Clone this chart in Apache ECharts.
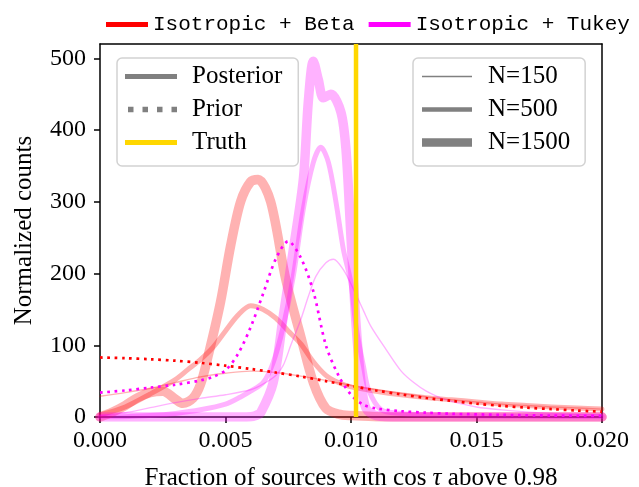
<!DOCTYPE html>
<html>
<head>
<meta charset="utf-8">
<script src="https://cdn.jsdelivr.net/npm/echarts@6/dist/echarts.min.js"></script>
<style>
html,body{margin:0;padding:0;background:#fff;}
#chart{width:639px;height:487px;}
</style>
</head>
<body>
<div id="chart"></div>
<script>
// ---- axis ticks ----
const xTicks = [0, 0.005, 0.010, 0.015, 0.020];
const yTicks = [0, 100, 200, 300, 400, 500];
const xMin = 0, xMax = 0.020, yMin = 0, yMax = 520;
const truthValue = 0.0102;

// ---- Isotropic + Beta ----
const betaPriorX = [0, 0.001, 0.002, 0.003, 0.004, 0.005, 0.006, 0.007, 0.008, 0.009, 0.010, 0.011, 0.012, 0.013, 0.014, 0.015, 0.016, 0.017, 0.018, 0.019, 0.020];
const betaPriorY = [83, 82, 80.5, 78.5, 75.5, 71.5, 67, 62, 56.5, 50, 43.5, 37, 31.5, 26.5, 22.5, 18.5, 15.5, 13, 11, 9, 7.5];

const betaN150X = [0, 0.001, 0.002, 0.003, 0.004, 0.005, 0.006, 0.007, 0.008, 0.009, 0.010, 0.011, 0.012, 0.013, 0.014, 0.015, 0.016, 0.017, 0.018, 0.019, 0.020];
const betaN150Y = [29, 34, 40, 48, 56, 61, 64, 62, 57, 51, 44, 38, 33, 28, 24, 21, 18, 16, 14, 12.5, 11];

const betaN500X = [0, 0.001, 0.002, 0.003, 0.0035, 0.004, 0.0045, 0.005, 0.0055, 0.006, 0.0065, 0.007, 0.0075, 0.008, 0.0085, 0.009, 0.0095, 0.010, 0.011, 0.012, 0.013, 0.014, 0.015, 0.016, 0.017, 0.018, 0.019, 0.020];
const betaN500Y = [3, 14, 32, 52, 66, 80, 97, 120, 142, 155, 150, 138, 120, 102, 77, 58, 48, 42, 36, 31, 27, 24, 21, 18, 16, 14, 12.5, 11];

const betaN1500X = [0, 0.0005, 0.001, 0.0015, 0.002, 0.0025, 0.003, 0.0033, 0.0037, 0.004, 0.0043, 0.0048, 0.0052, 0.0056, 0.006, 0.0063, 0.0068, 0.0074, 0.008, 0.0085, 0.009, 0.0095, 0.010, 0.011, 0.012, 0.014, 0.016, 0.018, 0.020];
const betaN1500Y = [0, 7, 16, 27, 34, 36, 25, 19, 26, 45, 84, 160, 238, 300, 328, 331, 300, 192, 112, 48, 12, 4, 2, 0.5, 0, 0, 0, 0, 0];

// ---- Isotropic + Tukey ----
const tukeyPriorX = [0, 0.001, 0.002, 0.003, 0.004, 0.0045, 0.005, 0.0055, 0.006, 0.0065, 0.007, 0.0075, 0.008, 0.0085, 0.009, 0.0095, 0.010, 0.0105, 0.011, 0.012, 0.013, 0.014, 0.016, 0.018, 0.020];
const tukeyPriorY = [34, 37, 41, 45, 51, 56, 65, 88, 125, 172, 220, 245, 222, 175, 100, 58, 31, 17, 12, 8, 6, 4.5, 3, 2, 1.5];

const tukeyN150X = [0, 0.001, 0.002, 0.003, 0.004, 0.005, 0.006, 0.0065, 0.007, 0.0073, 0.0076, 0.008, 0.0083, 0.0086, 0.009, 0.0093, 0.0097, 0.0101, 0.0105, 0.0108, 0.0114, 0.012, 0.0125, 0.013, 0.0137, 0.015, 0.016, 0.018, 0.020];
const tukeyN150Y = [2, 6, 13, 20, 26, 31, 38, 46, 58, 72, 100, 136, 168, 196, 215, 220, 205, 178, 148, 126, 94, 64, 48, 36, 25, 14, 10, 5, 3];

const tukeyN500X = [0, 0.001, 0.002, 0.003, 0.004, 0.005, 0.0056, 0.006, 0.0065, 0.0069, 0.0073, 0.0077, 0.0081, 0.0085, 0.0088, 0.0091, 0.0094, 0.0097, 0.010, 0.0102, 0.0105, 0.0107, 0.0112, 0.012, 0.013, 0.015, 0.020];
const tukeyN500Y = [0, 0.5, 2, 5, 10, 18, 28, 36, 48, 76, 126, 196, 290, 355, 376, 355, 300, 233, 187, 126, 70, 38, 10, 5, 3, 1.5, 0.5];

const tukeyN1500X = [0, 0.005, 0.006, 0.0062, 0.0064, 0.0069, 0.0073, 0.0077, 0.0081, 0.0083, 0.0085, 0.0087, 0.0089, 0.0092, 0.0096, 0.0098, 0.0100, 0.0102, 0.0104, 0.0106, 0.011, 0.012, 0.020];
const tukeyN1500Y = [0, 0, 0.5, 2, 6, 48, 140, 233, 331, 440, 496, 470, 445, 450, 425, 373, 250, 130, 48, 12, 2, 0, 0];

// ---- styling ----
const RED = 'rgb(255,0,0)', MAG = 'rgb(255,0,255)';
const RED_A = 'rgba(255,0,0,0.3)', MAG_A = 'rgba(255,0,255,0.3)';
const GOLD = '#FFD700', GRAY = '#808080';
const serif = 'Liberation Serif';
const widths = {150: 1.4, 500: 5, 1500: 9.5};

function zip(xs, ys) { return xs.map((x, i) => [x, ys[i]]); }

function posterior(name, xs, ys, color, w) {
  return {
    name: name, type: 'line', data: zip(xs, ys), symbol: 'none', smooth: 0.3,
    lineStyle: {color: color, width: w, join: 'round', cap: 'round'},
    itemStyle: {color: color}, silent: true, z: 2
  };
}
function prior(name, xs, ys, color) {
  return {
    name: name, type: 'line', data: zip(xs, ys), symbol: 'none', smooth: 0.3,
    lineStyle: {color: color, width: 2.7, type: [2.7, 4.6], cap: 'butt'},
    itemStyle: {color: color}, silent: true, z: 3
  };
}
function dummy(name, color) {
  return {
    name: name, type: 'line', data: [], symbol: 'none',
    lineStyle: {color: color}, itemStyle: {color: color}
  };
}

// legend icons: a horizontal bar of thickness t inside a w x h box
function barIcon(w, h, t) {
  const y0 = (h - t) / 2, y1 = (h + t) / 2;
  return 'path://M0,0L0.01,0L0,0.01Z' +
    'M' + w + ',' + h + 'L' + (w - 0.01) + ',' + h + 'L' + w + ',' + (h - 0.01) + 'Z' +
    'M0,' + y0 + 'L' + w + ',' + y0 + 'L' + w + ',' + y1 + 'L0,' + y1 + 'Z';
}
function dotIcon(w, h, t, starts) {
  const y0 = (h - t) / 2, y1 = (h + t) / 2;
  let p = 'path://M0,0L0.01,0L0,0.01Z' +
    'M' + w + ',' + h + 'L' + (w - 0.01) + ',' + h + 'L' + w + ',' + (h - 0.01) + 'Z';
  starts.forEach(s => {
    p += 'M' + s + ',' + y0 + 'L' + (s + t) + ',' + y0 + 'L' + (s + t) + ',' + y1 + 'L' + s + ',' + y1 + 'Z';
  });
  return p;
}

const series = [
  posterior('beta150', betaN150X, betaN150Y, RED_A, widths[150]),
  posterior('beta500', betaN500X, betaN500Y, RED_A, widths[500]),
  posterior('beta1500', betaN1500X, betaN1500Y, RED_A, widths[1500]),
  posterior('tukey150', tukeyN150X, tukeyN150Y, MAG_A, widths[150]),
  posterior('tukey500', tukeyN500X, tukeyN500Y, MAG_A, widths[500]),
  posterior('tukey1500', tukeyN1500X, tukeyN1500Y, MAG_A, widths[1500]),
  prior('betaPrior', betaPriorX, betaPriorY, RED),
  prior('tukeyPrior', tukeyPriorX, tukeyPriorY, MAG),
  {
    name: 'Truth', type: 'line', symbol: 'none', silent: true, z: 5,
    data: [[truthValue, yMin], [truthValue, yMax]],
    lineStyle: {color: GOLD, width: 4.5}, itemStyle: {color: GOLD}
  },
  dummy('Isotropic + Beta', RED),
  dummy('Isotropic + Tukey', MAG),
  dummy('Posterior', GRAY),
  dummy('Prior', GRAY),
  dummy('N=150', GRAY),
  dummy('N=500', GRAY),
  dummy('N=1500', GRAY)
];

const axisLineStyle = {color: '#000', width: 1.5};
const boxLegend = {
  orient: 'vertical', itemHeight: 25, itemGap: 8,
  borderColor: '#d2d2d2', borderWidth: 1.5, borderRadius: 5,
  backgroundColor: 'rgba(255,255,255,0.8)', selectedMode: false,
  itemStyle: {borderWidth: 0},
  textStyle: {fontFamily: serif, fontSize: 25, color: '#000', lineHeight: 25}
};

const option = {
  animation: false,
  backgroundColor: '#fff',
  grid: {left: 100, right: 37, top: 44, bottom: 70, outerBoundsMode: 'none', containLabel: false},
  xAxis: [{
    type: 'value', min: xMin, max: xMax, interval: 0.005, position: 'bottom',
    axisLine: {show: true, onZero: false, lineStyle: axisLineStyle},
    axisTick: {show: true, length: 6, lineStyle: axisLineStyle, customValues: xTicks},
    axisLabel: {customValues: xTicks, formatter: v => v.toFixed(3), fontFamily: serif, fontSize: 24, color: '#000', margin: 12},
    splitLine: {show: false},
    name: 'Fraction of sources with cos {i|τ} above 0.98', nameLocation: 'middle', nameGap: 49,
    nameTextStyle: {fontFamily: serif, fontSize: 25, color: '#000', rich: {i: {fontFamily: serif, fontSize: 25, fontStyle: 'italic', color: '#000'}}}
  }, {
    type: 'value', min: xMin, max: xMax, position: 'top',
    axisLine: {show: true, onZero: false, lineStyle: axisLineStyle},
    axisTick: {show: false}, axisLabel: {show: false}, splitLine: {show: false}
  }],
  yAxis: [{
    type: 'value', min: yMin, max: yMax, interval: 100, position: 'left',
    axisLine: {show: true, onZero: false, lineStyle: axisLineStyle},
    axisTick: {show: true, length: 6, lineStyle: axisLineStyle, customValues: yTicks},
    axisLabel: {customValues: yTicks, fontFamily: serif, fontSize: 24, color: '#000', margin: 14},
    splitLine: {show: false},
    name: 'Normalized counts', nameLocation: 'middle', nameGap: 63,
    nameTextStyle: {fontFamily: serif, fontSize: 25, color: '#000'}
  }, {
    type: 'value', min: yMin, max: yMax, position: 'right',
    axisLine: {show: true, onZero: false, lineStyle: axisLineStyle},
    axisTick: {show: false}, axisLabel: {show: false}, splitLine: {show: false}
  }],
  legend: [
    {
      orient: 'horizontal', width: 533,
      data: [
        {name: 'Isotropic + Beta', icon: barIcon(42, 20, 5)},
        {name: 'Isotropic + Tukey', icon: barIcon(42, 20, 5)}
      ],
      left: 106, top: 14, itemWidth: 42, itemHeight: 20, itemGap: 14, selectedMode: false,
      itemStyle: {borderWidth: 0}, padding: 0,
      textStyle: {fontFamily: 'Liberation Mono', fontSize: 21, color: '#000'}
    },
    Object.assign({}, boxLegend, {
      data: [
        {name: 'Posterior', icon: barIcon(52, 25, 5)},
        {name: 'Prior', icon: dotIcon(52, 25, 5.5, [3, 17.5, 32, 46.5])},
        {name: 'Truth', icon: barIcon(52, 25, 5)}
      ],
      left: 117, top: 58, itemWidth: 52,
      padding: [6, 16, 11, 8],
      textStyle: Object.assign({}, boxLegend.textStyle, {padding: [0, 0, 0, 10]})
    }),
    Object.assign({}, boxLegend, {
      data: [
        {name: 'N=150', icon: barIcon(50, 25, 1.4)},
        {name: 'N=500', icon: barIcon(50, 25, 4.5)},
        {name: 'N=1500', icon: barIcon(50, 25, 8.5)}
      ],
      left: 413, top: 58, itemWidth: 50,
      padding: [6, 15, 11, 9],
      textStyle: Object.assign({}, boxLegend.textStyle, {padding: [0, 0, 0, 11]})
    })
  ],
  series: series
};

const chart = echarts.init(document.getElementById('chart'), null, {renderer: 'canvas'});
chart.setOption(option);
</script>
</body>
</html>
